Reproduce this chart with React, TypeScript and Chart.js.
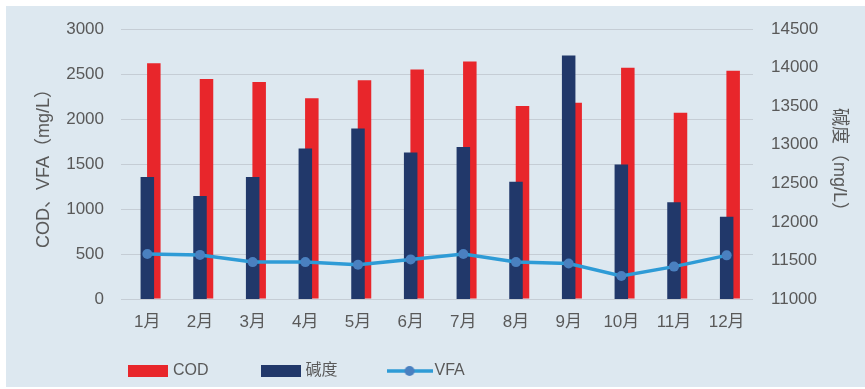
import React, { useEffect, useRef } from 'react';
import { Chart, registerables } from 'chart.js';

Chart.register(...registerables);

const months = ['1月', '2月', '3月', '4月', '5月', '6月', '7月', '8月', '9月', '10月', '11月', '12月'];
const codValues = [2620, 2445, 2410, 2230, 2430, 2550, 2640, 2145, 2180, 2570, 2070, 2535];
const alkalinityValues = [12580, 12335, 12580, 12950, 13210, 12900, 12970, 12520, 14155, 12745, 12255, 12065];
const vfaValues = [500, 490, 410, 410, 380, 440, 500, 410, 395, 255, 360, 485];

const leftAxisTitle = 'COD、VFA（mg/L）';
const rightAxisTitle = '碱度（mg/L）';
const seriesNames = ['COD', '碱度', 'VFA'];

const FONT = "'Liberation Sans', 'Noto Sans CJK SC', sans-serif";
const TEXT = '#595959';
const GRID = '#c5cdd5';
const RED = '#e8262b';
const NAVY = '#21386a';
const LINE = '#2e9bd6';
const MARK = '#4a80c0';
const BG = '#dde8f0';

const X_AXIS_H = 36;
const CANVAS_H = 299 + X_AXIS_H + 81;
const LEGEND_TOP = 308;

function makeSwatch(w: number, h: number, draw: (ctx: CanvasRenderingContext2D) => void) {
  const c = document.createElement('canvas');
  c.width = w;
  c.height = h;
  const ctx = c.getContext('2d') as CanvasRenderingContext2D;
  draw(ctx);
  return c;
}

const legendShift = {
  id: 'legendShift',
  afterLayout(chart: any) {
    const lg = chart.legend;
    if (lg) {
      const dy = LEGEND_TOP - lg.top;
      lg.left += 76;
      lg.right += 76;
      lg.top += dy;
      lg.bottom += dy;
    }
  },
};

export default function App() {
  const ref = useRef<HTMLCanvasElement>(null);

  useEffect(() => {
    if (!ref.current) return;
    const codBox = makeSwatch(40, 12, (ctx) => {
      ctx.fillStyle = RED;
      ctx.fillRect(0, 0, 40, 12);
    });
    const alkBox = makeSwatch(40, 12, (ctx) => {
      ctx.fillStyle = NAVY;
      ctx.fillRect(0, 0, 40, 12);
    });
    const vfaBox = makeSwatch(46, 12, (ctx) => {
      ctx.strokeStyle = LINE;
      ctx.lineWidth = 3.5;
      ctx.beginPath();
      ctx.moveTo(0, 6);
      ctx.lineTo(46, 6);
      ctx.stroke();
      ctx.fillStyle = MARK;
      ctx.beginPath();
      ctx.arc(23, 6, 5, 0, Math.PI * 2);
      ctx.fill();
    });

    const barCommon = { categoryPercentage: 0.37, barPercentage: 2.08, borderWidth: 0 };

    const chart = new Chart(ref.current, {
      type: 'bar',
      data: {
        labels: months,
        datasets: [
          { type: 'bar', label: seriesNames[0], data: codValues, backgroundColor: RED, yAxisID: 'y', order: 3, ...barCommon },
          { type: 'bar', label: seriesNames[1], data: alkalinityValues, backgroundColor: NAVY, yAxisID: 'y1', order: 2, ...barCommon },
          {
            type: 'line',
            label: seriesNames[2],
            data: vfaValues,
            borderColor: LINE,
            borderWidth: 3.5,
            pointRadius: 5,
            pointBackgroundColor: MARK,
            pointBorderColor: MARK,
            pointBorderWidth: 0,
            tension: 0,
            yAxisID: 'y',
            order: 0,
          },
          { type: 'bar', label: '', data: [], backgroundColor: 'rgba(0,0,0,0)', yAxisID: 'y', order: 1, ...barCommon },
        ],
      } as any,
      options: {
        responsive: false,
        animation: false,
        devicePixelRatio: 1,
        layout: { padding: { top: 29, bottom: 0, left: 0, right: 0 } },
        plugins: {
          tooltip: { enabled: false },
          legend: {
            position: 'bottom',
            align: 'start',
            maxHeight: 400,
            labels: {
              usePointStyle: true,
              pointStyleWidth: 34,
              boxHeight: 12,
              padding: 55,
              color: TEXT,
              font: { family: FONT, size: 16 },
              generateLabels: () => [
                { text: seriesNames[0], pointStyle: codBox, fillStyle: RED, strokeStyle: RED, lineWidth: 0, hidden: false, datasetIndex: 0, fontColor: TEXT },
                { text: seriesNames[1], pointStyle: alkBox, fillStyle: NAVY, strokeStyle: NAVY, lineWidth: 0, hidden: false, datasetIndex: 1, fontColor: TEXT },
                { text: seriesNames[2], pointStyle: vfaBox, fillStyle: LINE, strokeStyle: LINE, lineWidth: 0, hidden: false, datasetIndex: 2, fontColor: TEXT },
              ] as any,
            },
          },
        },
        scales: {
          x: {
            grid: { display: false, drawTicks: false },
            border: { display: false },
            ticks: { color: TEXT, font: { family: FONT, size: 17 }, padding: 13, autoSkip: false, maxRotation: 0 },
            afterFit: (s: any) => { s.height = X_AXIS_H; },
          },
          y: {
            position: 'left',
            min: 0,
            max: 3000,
            ticks: { stepSize: 500, padding: 17, color: TEXT, font: { family: FONT, size: 17 }, callback: (v: any) => String(v) },
            grid: { color: GRID, lineWidth: 1, drawTicks: false },
            border: { display: false },
            title: { display: true, text: leftAxisTitle, color: TEXT, font: { family: FONT, size: 18 }, padding: { top: 33, bottom: 0 } },
            afterFit: (s: any) => { s.width = 121; },
          },
          y1: {
            position: 'right',
            min: 11000,
            max: 14500,
            ticks: { stepSize: 500, padding: 18, color: TEXT, font: { family: FONT, size: 17 }, callback: (v: any) => String(v) },
            grid: { display: false, drawTicks: false },
            border: { display: false },
            title: { display: true, text: rightAxisTitle, color: TEXT, font: { family: FONT, size: 18 }, padding: { top: 15, bottom: 0 } },
            afterFit: (s: any) => { s.width = 112; },
          },
        },
      } as any,
      plugins: [legendShift],
    });
    return () => chart.destroy();
  }, []);

  return (
    <div style={{ position: 'fixed', left: 0, top: 0, width: 865, height: 389, background: '#ffffff', overflow: 'hidden' }}>
      <div style={{ position: 'absolute', left: 6, top: 6, width: 859, height: 381, background: BG }} />
      <canvas ref={ref} width={865} height={CANVAS_H} style={{ position: 'absolute', left: 0, top: 0, width: 865, height: CANVAS_H }} />
    </div>
  );
}
